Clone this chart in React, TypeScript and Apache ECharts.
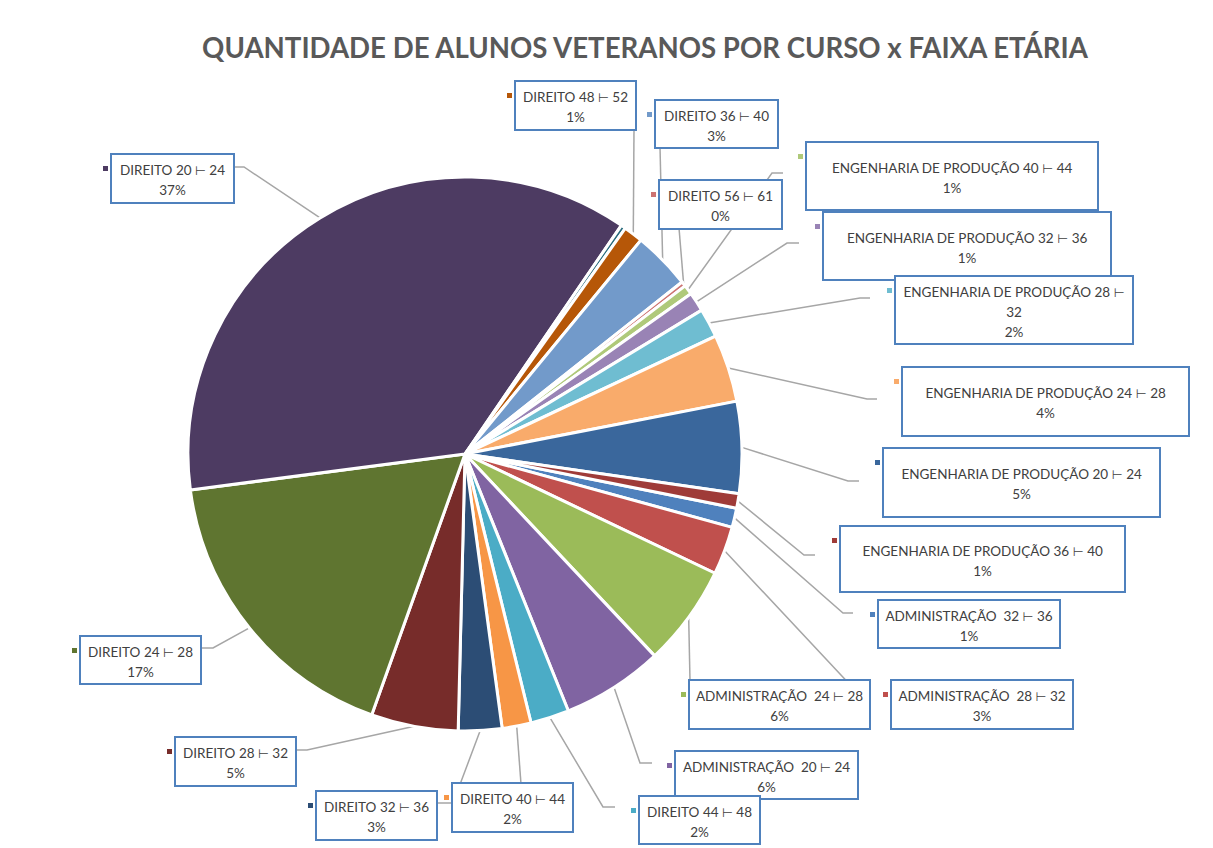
import React, { useEffect, useRef } from "react";
import * as echarts from "echarts";

const TITLE = "QUANTIDADE DE ALUNOS VETERANOS POR CURSO x FAIXA ETÁRIA";

// Slices, clockwise from the first one
const names = [
  "ADMINISTRAÇÃO  32 ⊢ 36",
  "ADMINISTRAÇÃO  28 ⊢ 32",
  "ADMINISTRAÇÃO  24 ⊢ 28",
  "ADMINISTRAÇÃO  20 ⊢ 24",
  "DIREITO 44 ⊢ 48",
  "DIREITO 40 ⊢ 44",
  "DIREITO 32 ⊢ 36",
  "DIREITO 28 ⊢ 32",
  "DIREITO 24 ⊢ 28",
  "DIREITO 20 ⊢ 24",
  "DIREITO 52 ⊢ 56",
  "DIREITO 48 ⊢ 52",
  "DIREITO 36 ⊢ 40",
  "DIREITO 56 ⊢ 61",
  "ENGENHARIA DE PRODUÇÃO 40 ⊢ 44",
  "ENGENHARIA DE PRODUÇÃO 32 ⊢ 36",
  "ENGENHARIA DE PRODUÇÃO 28 ⊢ 32",
  "ENGENHARIA DE PRODUÇÃO 24 ⊢ 28",
  "ENGENHARIA DE PRODUÇÃO 20 ⊢ 24",
  "ENGENHARIA DE PRODUÇÃO 36 ⊢ 40",
];

const values = [4, 10, 21, 21, 8, 6, 9, 18, 62, 130, 1, 4, 12, 1, 2, 4, 6, 14, 19, 3];

const showLabel = [
  true, true, true, true, true, true, true, true, true, true,
  false, true, true, true, true, true, true, true, true, true,
];

const colors = [
  "#4F81BD", "#C0504D", "#9BBB59", "#8064A2", "#4BACC6", "#F79646",
  "#2C4D75", "#772C2A", "#5F7530", "#4D3B62", "#276A7C", "#B65708",
  "#729ACA", "#CD7371", "#AFC97A", "#9983B5", "#6FBDD1", "#F9AB6B",
  "#3A679C", "#9F3B38",
];

// Layout of the data-label boxes: [left, top, width, height]
const labelBoxes: (number[] | null)[] = [
  [879, 601, 180, 46],
  [892, 681, 180, 47],
  [690, 681, 179, 47],
  [676, 752, 181, 46],
  [640, 797, 119, 46],
  [453, 784, 119, 47],
  [317, 792, 119, 47],
  [176, 738, 119, 47],
  [81, 637, 119, 46],
  [112, 155, 121, 47],
  null,
  [516, 82, 119, 47],
  [656, 101, 121, 46],
  [660, 181, 121, 47],
  [807, 143, 290, 66],
  [824, 213, 286, 66],
  [896, 277, 236, 66],
  [903, 368, 285, 67],
  [884, 449, 275, 67],
  [841, 527, 283, 64],
];

// labels whose box is too narrow, so the last word goes to a new line
const wrapLastWord = [16];

// Leader lines: [elbowX, elbowY, endX, endY]
const leaders: (number[] | null)[] = [
  [843, 613, 853, 613],
  [855, 690, 867, 690],
  [690, 681, 690, 681],
  [640, 763, 652, 763],
  [603, 807, 615, 807],
  [521, 784, 521, 784],
  [453, 803, 437, 803],
  [307, 750, 296, 750],
  [213, 648, 201, 648],
  [244, 167, 234, 167],
  null,
  [634, 129, 634, 129],
  [660, 147, 660, 147],
  [679, 228, 679, 228],
  [772, 173, 783, 173],
  [787, 243, 799, 243],
  [860, 298, 870, 298],
  [867, 399, 877, 399],
  [848, 481, 859, 481],
  [804, 555, 815, 555],
];

const CX = 465;
const CY = 454;
const R = 277;
const START_ANGLE = 348.7;
const LINE_H = 20;
const FONT = "Lato, 'Open Sans', sans-serif";
const TEXT_COLOR = "#404040";

export default function App() {
  const ref = useRef<HTMLDivElement>(null);

  useEffect(() => {
    document.body.style.margin = "0";
    if (!ref.current) return;
    const chart = echarts.init(ref.current, undefined, { renderer: "svg" });
    const total = values.reduce((a, b) => a + b, 0);

    const midPoint = (i: number) => {
      let cum = 0;
      for (let j = 0; j < i; j++) cum += values[j];
      const a = ((START_ANGLE - ((cum + values[i] / 2) / total) * 360) * Math.PI) / 180;
      return [CX + R * Math.cos(a), CY - R * Math.sin(a)];
    };

    const data = names.map((name, i) => {
      const b = labelBoxes[i];
      const item: any = {
        name,
        value: values[i],
        itemStyle: { color: colors[i] },
      };
      if (!showLabel[i] || !b) {
        item.label = { show: false };
        item.labelLine = { show: false };
      } else {
        const lines = wrapLastWord.includes(i) ? 3 : 2;
        const pt = Math.round((b[3] - lines * LINE_H) / 2 + 1.5);
        const pb = b[3] - lines * LINE_H - pt;
        item.label = { width: b[2], padding: [pt, 0, pb, 0] };
      }
      return item;
    });

    const keys = labelBoxes
      .map((b, i) =>
        b && showLabel[i]
          ? {
              type: "rect",
              shape: { x: b[0] - 9, y: b[1] + 11, width: 5, height: 5 },
              style: { fill: colors[i] },
              silent: true,
            }
          : null
      )
      .filter(Boolean);

    chart.setOption({
      animation: false,
      backgroundColor: "#ffffff",
      title: {
        text: TITLE,
        left: 645,
        top: 33,
        textAlign: "center",
        padding: 0,
        textStyle: {
          fontFamily: FONT,
          fontSize: 27.6,
          fontWeight: "bold",
          color: "#595959",
        },
      },
      graphic: keys,
      series: [
        {
          type: "pie",
          center: [CX, CY],
          radius: R,
          startAngle: START_ANGLE,
          clockwise: true,
          avoidLabelOverlap: false,
          emphasis: { disabled: true },
          itemStyle: { borderColor: "#ffffff", borderWidth: 3 },
          label: {
            show: true,
            position: "outside",
            formatter: (p: any) => {
              let name: string = p.name;
              if (wrapLastWord.includes(p.dataIndex)) {
                const k = name.lastIndexOf(" ");
                name = name.slice(0, k) + "\n" + name.slice(k + 1);
              }
              name = name.replace("⊢", "{s|⊢}");
              return `${name}\n${Math.round((p.value / total) * 100)}%`;
            },
            fontFamily: FONT,
            fontSize: 13.5,
            lineHeight: LINE_H,
            color: TEXT_COLOR,
            align: "center",
            backgroundColor: "#ffffff",
            borderColor: "#4F81BD",
            borderWidth: 2,
            overflow: "none",
            rich: {
              s: {
                fontFamily: "'DejaVu Sans', sans-serif",
                fontSize: 12.5,
                lineHeight: LINE_H,
                color: TEXT_COLOR,
              },
            },
          },
          labelLine: {
            show: true,
            length: 10,
            length2: 10,
            lineStyle: { color: "#A6A6A6", width: 1.5 },
          },
          labelLayout: (params: any) => {
            const i = params.dataIndex;
            const b = labelBoxes[i];
            const l = leaders[i];
            if (!b || !l || !showLabel[i]) return {};
            const pts = params.labelLinePoints;
            const start = pts && pts[0] ? pts[0] : midPoint(i);
            return {
              x: b[0] + b[2] / 2,
              y: b[1],
              align: "center",
              verticalAlign: "top",
              labelLinePoints: [start, [l[0], l[1]], [l[2], l[3]]],
            };
          },
          data,
        },
      ],
    });

    return () => chart.dispose();
  }, []);

  return (
    <div
      ref={ref}
      style={{ position: "absolute", left: 0, top: 0, width: 1213, height: 848 }}
    />
  );
}
